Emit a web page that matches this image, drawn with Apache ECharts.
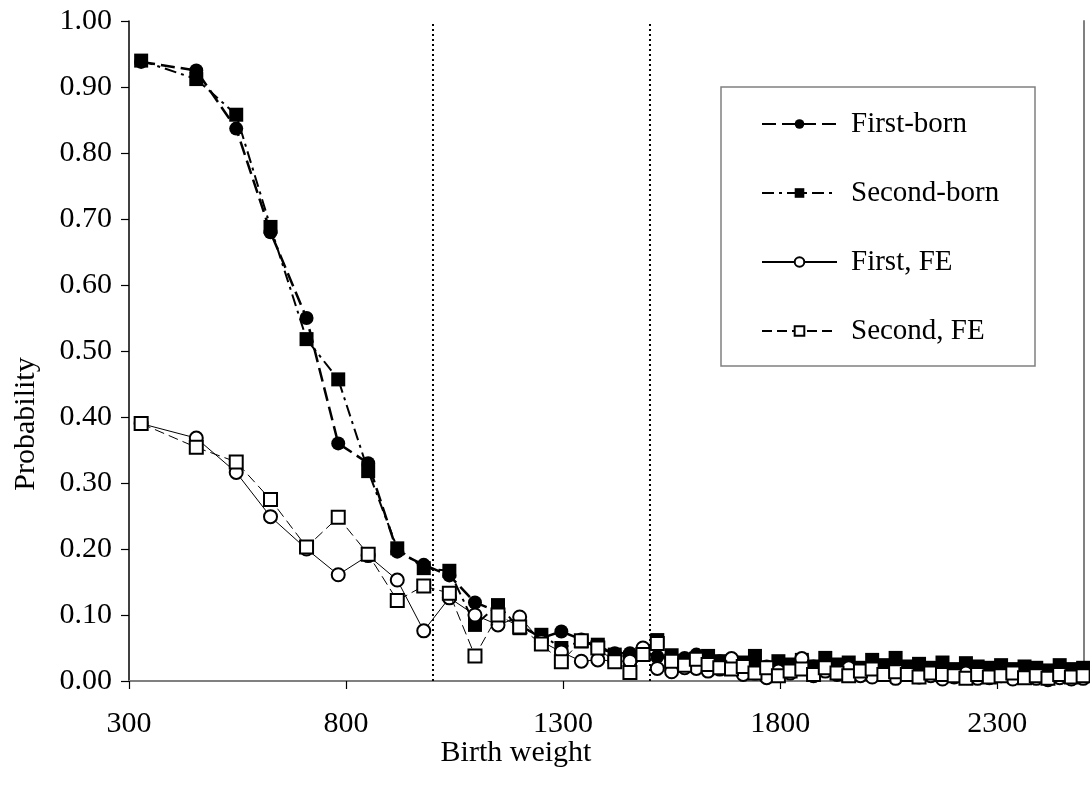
<!DOCTYPE html>
<html>
<head>
<meta charset="utf-8">
<script src="https://cdn.jsdelivr.net/npm/echarts@6/dist/echarts.min.js"></script>
<style>
html,body{margin:0;padding:0;background:#fff;}
#chart{width:1090px;height:792px;}
</style>
</head>
<body>
<div id="chart"></div>
<script>
// ---- data ----
var seriesNames = ['First-born', 'Second-born', 'First, FE', 'Second, FE'];
var birthWeights = [328, 455, 547, 626, 709, 782, 851, 918, 979, 1038, 1097, 1150, 1200, 1250, 1296, 1342, 1380, 1419, 1454, 1484, 1517, 1550, 1580, 1607, 1634,
  1661, 1688, 1715, 1742, 1769, 1796, 1823, 1850, 1877, 1904, 1931, 1958, 1985, 2012, 2039, 2066, 2093, 2120, 2147, 2174, 2201, 2228, 2255, 2282, 2309, 2336, 2363, 2390, 2417, 2444, 2471, 2498];
var firstBorn = [0.938, 0.925, 0.837, 0.680, 0.550, 0.360, 0.330, 0.196, 0.176, 0.160, 0.119, 0.105, 0.085, 0.065, 0.075, 0.063, 0.050, 0.042, 0.042, 0.045, 0.037, 0.035, 0.035, 0.040, 0.035,
  0.030, 0.028, 0.025, 0.020, 0.022, 0.018, 0.024, 0.020, 0.022, 0.026, 0.018, 0.020, 0.016, 0.022, 0.018, 0.015, 0.020, 0.017, 0.014, 0.018, 0.015, 0.012, 0.016, 0.014, 0.012, 0.015, 0.011, 0.013, 0.012, 0.010, 0.014, 0.012];
var secondBorn = [0.940, 0.912, 0.858, 0.688, 0.518, 0.457, 0.318, 0.201, 0.171, 0.167, 0.085, 0.115, 0.080, 0.070, 0.050, 0.060, 0.055, 0.040, 0.035, 0.040, 0.062, 0.039, 0.030, 0.033, 0.038,
  0.030, 0.025, 0.028, 0.038, 0.020, 0.030, 0.025, 0.032, 0.022, 0.035, 0.025, 0.028, 0.020, 0.032, 0.024, 0.035, 0.022, 0.026, 0.020, 0.028, 0.018, 0.027, 0.022, 0.020, 0.024, 0.018, 0.022, 0.020, 0.016, 0.024, 0.018, 0.020];
var firstFE = [0.390, 0.368, 0.316, 0.249, 0.200, 0.161, 0.190, 0.153, 0.076, 0.126, 0.100, 0.085, 0.097, 0.060, 0.044, 0.030, 0.032, 0.030, 0.030, 0.050, 0.019, 0.014, 0.020, 0.019, 0.015,
  0.018, 0.034, 0.010, 0.012, 0.005, 0.015, 0.012, 0.034, 0.008, 0.015, 0.010, 0.020, 0.008, 0.006, 0.012, 0.004, 0.010, 0.006, 0.008, 0.003, 0.006, 0.012, 0.004, 0.005, 0.008, 0.003, 0.006, 0.004, 0.002, 0.005, 0.003, 0.004];
var secondFE = [0.390, 0.354, 0.332, 0.275, 0.203, 0.248, 0.192, 0.122, 0.144, 0.133, 0.038, 0.100, 0.082, 0.056, 0.029, 0.061, 0.050, 0.029, 0.013, 0.040, 0.057, 0.030, 0.024, 0.033, 0.025,
  0.020, 0.018, 0.022, 0.012, 0.020, 0.008, 0.015, 0.018, 0.010, 0.020, 0.012, 0.008, 0.015, 0.018, 0.010, 0.014, 0.010, 0.006, 0.012, 0.010, 0.008, 0.004, 0.010, 0.006, 0.008, 0.012, 0.005, 0.008, 0.004, 0.010, 0.006, 0.008];
var xTickLabels = [300, 800, 1300, 1800, 2300];
var referenceLines = [1000, 1500];
var xTitle = 'Birth weight';
var yTitle = 'Probability';

function pairs(vals) {
  return birthWeights.map(function (w, i) { return [w, vals[i]]; });
}

var FONT = 'Liberation Serif';
var chart = echarts.init(document.getElementById('chart'), null, {renderer: 'canvas'});

var option = {
  animation: false,
  backgroundColor: '#fff',
  grid: {left: 129, top: 21, right: 6, bottom: 111, containLabel: false},
  graphic: [
    {type: 'rect', z: 0, shape: {x: 721, y: 87, width: 314, height: 279},
      style: {fill: '#fff', stroke: '#808080', lineWidth: 1.5}},
    {type: 'text', x: 516, y: 753, style: {text: xTitle, font: '30px "Liberation Serif"', fill: '#000', textAlign: 'center', textVerticalAlign: 'middle'}},
    {type: 'text', x: 26, y: 424, rotation: Math.PI / 2, style: {text: yTitle, font: '30px "Liberation Serif"', fill: '#000', textAlign: 'center', textVerticalAlign: 'middle'}}
  ],
  legend: {
    orient: 'vertical',
    left: 761, top: 109,
    padding: 0,
    itemWidth: 75, itemHeight: 12,
    itemGap: 39,
    data: seriesNames,
    textStyle: {fontFamily: FONT, fontSize: 29, color: '#000', lineHeight: 30, padding: [0, 0, 0, 9]}
  },
  xAxis: [{
    type: 'value', min: 300, max: 2500, interval: 500,
    axisLine: {show: true, lineStyle: {color: '#000', width: 1.5}},
    axisTick: {show: true, length: 8, inside: false, customValues: xTickLabels, lineStyle: {color: '#000', width: 1.2}},
    axisLabel: {customValues: xTickLabels, fontFamily: FONT, fontSize: 30, color: '#000', margin: 28,
      formatter: function (v) { return String(v); }},
    splitLine: {show: false}
  }, {
    type: 'value', position: 'top', min: 300, max: 2500,
    axisLine: {show: true, lineStyle: {color: '#808080', width: 2}},
    axisTick: {show: false}, axisLabel: {show: false}, splitLine: {show: false}
  }],
  yAxis: [{
    type: 'value', min: 0, max: 1, interval: 0.1,
    axisLine: {show: true, lineStyle: {color: '#000', width: 1.5}},
    axisTick: {show: true, length: 8, lineStyle: {color: '#000', width: 1.2}},
    axisLabel: {fontFamily: FONT, fontSize: 30, color: '#000', margin: 17, formatter: function (v) { return v.toFixed(2); }},
    splitLine: {show: false}
  }, {
    type: 'value', position: 'right', min: 0, max: 1,
    axisLine: {show: true, lineStyle: {color: '#808080', width: 2}},
    axisTick: {show: false}, axisLabel: {show: false}, splitLine: {show: false}
  }],
  series: [
    {
      name: seriesNames[0], type: 'line', data: pairs(firstBorn), showAllSymbol: true,
      symbol: 'circle', symbolSize: 14, z: 3,
      itemStyle: {color: '#000', borderColor: '#000', borderWidth: 0},
      lineStyle: {color: '#000', width: 2.5, type: [14, 6]},
      markLine: {
        silent: true, symbol: ['none', 'none'], label: {show: false},
        lineStyle: {type: [2, 3], color: '#000', width: 2},
        data: referenceLines.map(function (v) { return {xAxis: v}; })
      }
    },
    {
      name: seriesNames[1], type: 'line', data: pairs(secondBorn), showAllSymbol: true,
      symbol: 'rect', symbolSize: 14, z: 4,
      itemStyle: {color: '#000', borderColor: '#000', borderWidth: 0},
      lineStyle: {color: '#000', width: 2, type: [12, 5, 3, 5]}
    },
    {
      name: seriesNames[2], type: 'line', data: pairs(firstFE), showAllSymbol: true,
      symbol: 'circle', symbolSize: 13, z: 5,
      itemStyle: {color: '#fff', borderColor: '#000', borderWidth: 2},
      lineStyle: {color: '#000', width: 1, type: 'solid'}
    },
    {
      name: seriesNames[3], type: 'line', data: pairs(secondFE), showAllSymbol: true,
      symbol: 'rect', symbolSize: 13, z: 6,
      itemStyle: {color: '#fff', borderColor: '#000', borderWidth: 2},
      lineStyle: {color: '#000', width: 1, type: [10, 5]}
    }
  ]
};
chart.setOption(option);
</script>
</body>
</html>
